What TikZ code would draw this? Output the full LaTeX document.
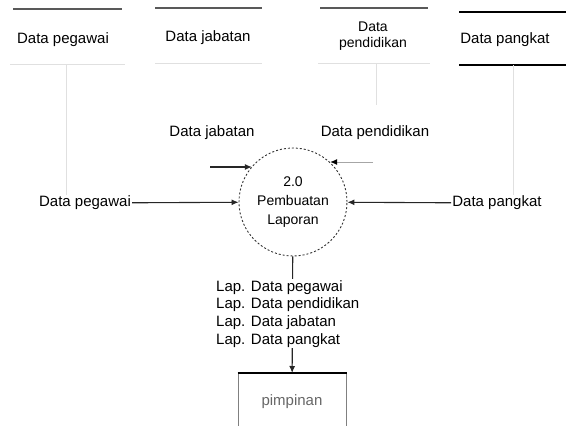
\documentclass[tikz,border=0pt]{standalone}
\usepackage{fontspec}
\setmainfont{Liberation Sans}
\usetikzlibrary{arrows.meta}
\begin{document}
\begin{tikzpicture}[x=1pt,y=-1pt,
  font=\fontsize{15}{17}\selectfont,
  lbl/.style={inner sep=1pt},
  storetop/.style={draw=black!65, line width=1.2pt},
  storebot/.style={draw=black!12, line width=1pt},
  faint/.style={draw=black!12, line width=1pt},
  flow/.style={draw=black!85, line width=1.1pt, -{Latex[length=7pt,width=6pt]}},
  proc/.style={circle, draw=black!80, line width=0.9pt, dash pattern=on 2pt off 2pt, minimum size=108pt, inner sep=0pt, align=center, font=\fontsize{14}{19}\selectfont},
  entity/.style={draw=black!50, line width=1pt, minimum width=108pt, minimum height=60pt, anchor=north, inner sep=0pt}]
\useasboundingbox (0,0) rectangle (566,426);
% data stores
\node[lbl] (s1) at (63,40) {Data pegawai};
\draw[storetop] (13,9) -- (122,9);
\draw[storebot] (10,64) -- (125,64);
\coordinate (s1b) at (66,64);
\node[lbl] (s2) at (208,38) {Data jabatan};
\draw[storetop] (155,8) -- (262,8);
\draw[storebot] (155,63) -- (262,63);
\node[lbl, align=center, font=\fontsize{14}{16}\selectfont] (s3) at (373,36) {Data\\pendidikan};
\draw[storetop] (320,8) -- (428,8);
\draw[storebot] (318,63) -- (430,63);
\coordinate (s3b) at (376,63);
\coordinate (s3e) at (376,105);
\node[lbl] (s4) at (505,40) {Data pangkat};
\draw[draw=black, line width=1.5pt] (459,12) -- (566,12);
\draw[draw=black, line width=1.5pt] (459,65) -- (566,65);
\coordinate (s4b) at (513,65);
% process
\node[proc] (p) at (293,202) {2.0\\Pembuatan\\Laporan};
% flows
\node[lbl] (fpeg) at (85,203) {Data pegawai};
\draw[faint] (s1b) -- (fpeg.north -| s1b);
\draw[flow] (fpeg) -- (p);
\node[lbl] (fpang) at (497,203) {Data pangkat};
\draw[faint] (s4b) -- (fpang.north -| s4b);
\draw[flow] (fpang) -- (p);
\node[lbl] (fjab) at (212,133) {Data jabatan};
\coordinate (ja) at (210,167);
\draw[flow] (ja) -- (ja -| p.139.6);
\node[lbl] (fpend) at (375,133) {Data pendidikan};
\draw[faint] (s3b) -- (s3e);
\coordinate (pe) at (373,162);
\draw[draw=black!35, line width=1pt, -{Latex[length=7pt,width=6pt,color=black]}] (pe) -- (pe -| p.47.8);
% entity
\node[entity] (box) at (292,373) {};
\node[text=black!60] (boxt) at (292,402) {pimpinan};
\draw[draw=black, line width=1.2pt] (box.north west) -- (box.north east);
\draw[flow] (p) -- (box);
\node[lbl, fill=white, anchor=north west, align=left, font=\fontsize{15}{17.7}\selectfont] (lap) at (215,279) {Lap. Data pegawai\\Lap. Data pendidikan\\Lap. Data jabatan\\Lap. Data pangkat};
\end{tikzpicture}
\end{document}
